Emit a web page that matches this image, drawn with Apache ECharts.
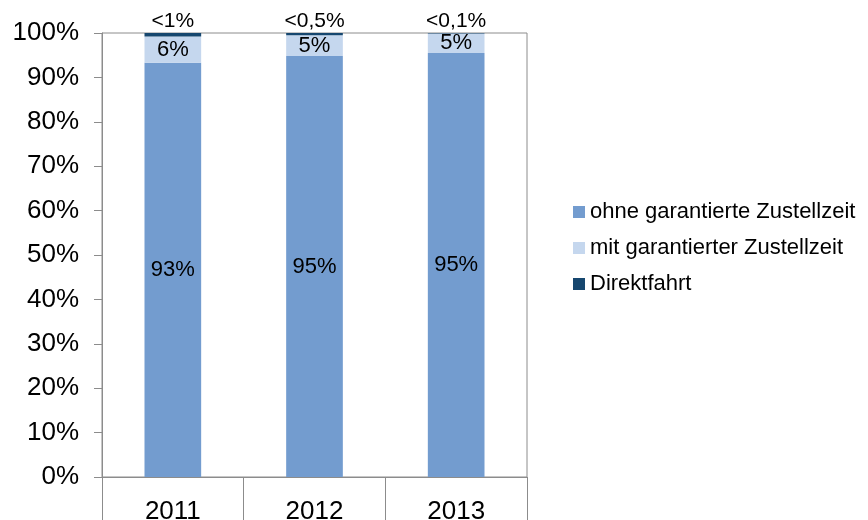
<!DOCTYPE html>
<html>
<head>
<meta charset="utf-8">
<script src="https://cdn.jsdelivr.net/npm/echarts@6/dist/echarts.min.js"></script>
<style>
  html, body { margin: 0; padding: 0; background: #fff; }
  #main { width: 868px; height: 520px; }
</style>
</head>
<body>
<div id="main"></div>
<script>
// chart data
var years = ["2011", "2012", "2013"];
var ohne = [93.3, 94.8, 95.5];
var mit = [5.9, 4.7, 4.4];
var direkt = [0.8, 0.5, 0.1];
var ohneLabels = ["93%", "95%", "95%"];
var mitLabels = ["6%", "5%", "5%"];
var direktLabels = ["<1%", "<0,5%", "<0,1%"];
var yTicks = [0, 10, 20, 30, 40, 50, 60, 70, 80, 90, 100];

var FONT = "Liberation Sans, Arial, sans-serif";
var GRAY = "#8c8c8c";

var myChart = echarts.init(document.getElementById("main"));
myChart.setOption({
  animation: false,
  textStyle: { fontFamily: FONT, color: "#000" },
  grid: {
    left: 102,
    right: 341,
    top: 33,
    bottom: 43,
    containLabel: false,
    outerBoundsMode: "none",
    show: true,
    borderColor: GRAY,
    borderWidth: 1,
  },
  legend: {
    orient: "vertical",
    left: 568,
    top: 196,
    itemWidth: 12,
    itemHeight: 12,
    itemGap: 14,
    icon: "rect",
    textStyle: { fontFamily: FONT, fontSize: 22, color: "#000" },
    data: ["ohne garantierte Zustellzeit", "mit garantierter Zustellzeit", "Direktfahrt"],
  },
  xAxis: {
    type: "category",
    data: years,
    axisLine: { show: true, lineStyle: { color: GRAY } },
    axisTick: { show: true, interval: 0, inside: false, length: 46, lineStyle: { color: GRAY, width: 1 } },
    axisLabel: { fontSize: 26, color: "#000", margin: 22, fontFamily: FONT },
  },
  yAxis: {
    type: "value",
    min: yTicks[0],
    max: yTicks[yTicks.length - 1],
    interval: 10,
    axisLine: { show: true, lineStyle: { color: GRAY } },
    axisTick: { show: true, length: 8, lineStyle: { color: GRAY } },
    splitLine: { show: false },
    axisLabel: {
      fontSize: 26,
      color: "#000",
      margin: 23,
      fontFamily: FONT,
      formatter: "{value}%",
    },
  },
  series: [
    {
      name: "ohne garantierte Zustellzeit",
      type: "bar",
      stack: "a",
      barWidth: "40%",
      data: ohne,
      itemStyle: { color: "#739CCF" },
      label: {
        show: true,
        position: "inside",
        fontSize: 22,
        color: "#000",
        fontFamily: FONT,
        formatter: function (p) { return ohneLabels[p.dataIndex]; },
      },
    },
    {
      name: "mit garantierter Zustellzeit",
      type: "bar",
      stack: "a",
      data: mit,
      itemStyle: { color: "#C5D7EE" },
      label: {
        show: true,
        position: "inside",
        fontSize: 22,
        color: "#000",
        fontFamily: FONT,
        formatter: function (p) { return mitLabels[p.dataIndex]; },
      },
    },
    {
      name: "Direktfahrt",
      type: "bar",
      stack: "a",
      data: direkt,
      itemStyle: { color: "#16476F" },
      label: {
        show: true,
        position: "top",
        distance: 1,
        fontSize: 21,
        color: "#000",
        fontFamily: FONT,
        formatter: function (p) { return direktLabels[p.dataIndex]; },
      },
    },
  ],
});
</script>
</body>
</html>
